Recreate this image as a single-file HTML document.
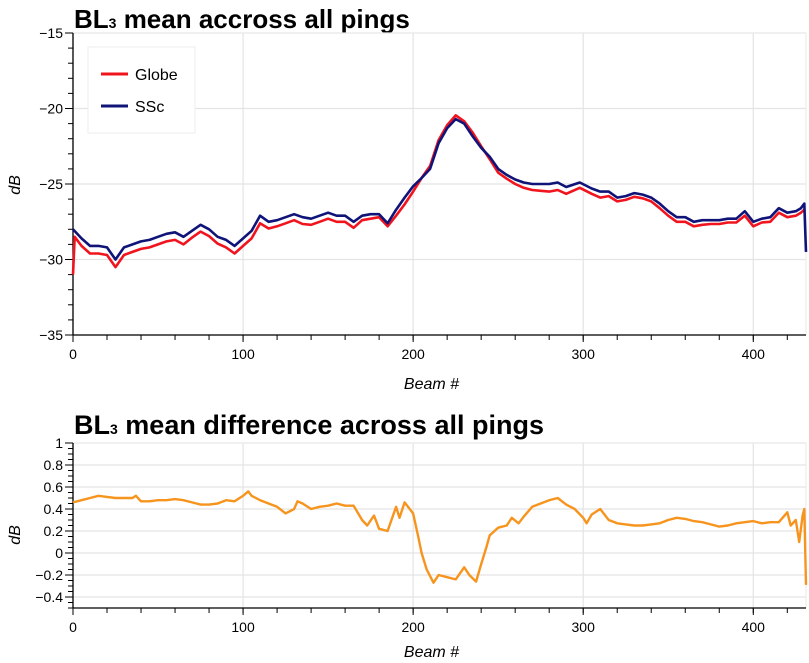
<!DOCTYPE html>
<html><head><meta charset="utf-8"><style>
body{margin:0;background:#fff;}
svg{display:block;font-family:"Liberation Sans",Arial,sans-serif;}
</style></head><body>
<svg id="chart" width="809" height="663" viewBox="0 0 809 663" xmlns="http://www.w3.org/2000/svg">
<text x="74" y="28" font-size="26" font-weight="bold">BL<tspan font-size="14">3</tspan> mean accross all pings</text>
<text x="74" y="434" font-size="27" font-weight="bold">BL<tspan font-size="14">3</tspan> mean difference across all pings</text>
<g id="topChart"></g>
<g id="botChart"></g>
</svg>
<script>
const sscBeams=[0,5,10,15,20,25,30,35,40,45,50,55,60,65,70,75,80,85,90,95,100,105,110,115,120,125,130,135,140,145,150,155,160,165,170,175,180,185,190,195,200,205,210,215,220,225,230,235,240,245,250,255,260,265,270,275,280,285,290,298,305,310,315,320,325,330,335,340,345,350,355,360,365,370,375,380,385,390,395,400,405,410,415,420,425,428,430,431];
const sscValues=[-28.0,-28.6,-29.1,-29.1,-29.2,-30.0,-29.2,-29.0,-28.8,-28.7,-28.5,-28.3,-28.2,-28.5,-28.1,-27.7,-28.0,-28.5,-28.7,-29.1,-28.6,-28.1,-27.1,-27.5,-27.4,-27.2,-27.0,-27.2,-27.3,-27.1,-26.9,-27.1,-27.1,-27.5,-27.1,-27.0,-27.0,-27.6,-26.7,-25.9,-25.15,-24.6,-24.0,-22.3,-21.3,-20.7,-21.0,-21.85,-22.6,-23.2,-24.0,-24.4,-24.7,-24.9,-25.0,-25.0,-25.0,-24.9,-25.2,-24.9,-25.3,-25.5,-25.5,-25.9,-25.8,-25.6,-25.7,-25.9,-26.3,-26.8,-27.2,-27.2,-27.5,-27.4,-27.4,-27.4,-27.3,-27.3,-26.8,-27.5,-27.3,-27.2,-26.6,-26.9,-26.8,-26.6,-26.3,-29.5];
const globeBeams=[0,1,5,10,15,20,25,30,35,40,45,50,55,60,65,70,75,80,85,90,95,100,105,110,115,120,125,130,135,140,145,150,155,160,165,170,175,180,185,190,195,200,205,210,215,220,225,230,235,240,245,250,255,260,265,270,275,280,285,290,298,305,310,315,320,325,330,335,340,345,350,355,360,365,370,375,380,385,390,395,400,405,410,415,420,425,428,430];
const globeValues=[-31.0,-28.5,-29.1,-29.6,-29.6,-29.7,-30.5,-29.7,-29.5,-29.3,-29.2,-29.0,-28.8,-28.7,-29.0,-28.55,-28.15,-28.45,-28.95,-29.2,-29.6,-29.1,-28.6,-27.6,-27.95,-27.8,-27.6,-27.4,-27.65,-27.7,-27.5,-27.3,-27.5,-27.5,-27.9,-27.4,-27.3,-27.2,-27.8,-27.1,-26.35,-25.5,-24.6,-23.8,-22.1,-21.1,-20.45,-20.85,-21.6,-22.5,-23.35,-24.25,-24.65,-25.0,-25.25,-25.4,-25.45,-25.5,-25.4,-25.65,-25.25,-25.65,-25.9,-25.8,-26.15,-26.05,-25.85,-25.95,-26.15,-26.6,-27.1,-27.5,-27.5,-27.8,-27.7,-27.65,-27.65,-27.55,-27.55,-27.1,-27.8,-27.55,-27.5,-26.9,-27.2,-27.1,-26.9,-26.7];
const diffBeams=[0,5,10,15,20,25,30,35,37,40,45,50,55,60,65,70,75,80,85,90,95,100,103,105,110,115,120,125,130,132,135,140,145,150,155,160,165,170,173,177,180,185,190,192,195,200,203,205,208,212,215,220,225,230,233,237,240,243,245,250,255,258,262,265,270,275,280,285,290,295,300,302,305,310,315,320,325,330,335,340,345,350,355,360,365,370,375,380,385,390,395,400,405,410,415,420,422,425,427,429,430,431];
const diffValues=[0.46,0.48,0.5,0.52,0.51,0.5,0.5,0.5,0.52,0.47,0.47,0.48,0.48,0.49,0.48,0.46,0.44,0.44,0.45,0.48,0.47,0.52,0.56,0.52,0.48,0.45,0.42,0.36,0.40,0.47,0.45,0.40,0.42,0.43,0.45,0.43,0.43,0.30,0.25,0.34,0.22,0.20,0.42,0.32,0.46,0.36,0.15,0.0,-0.15,-0.27,-0.2,-0.22,-0.24,-0.13,-0.2,-0.26,-0.1,0.05,0.16,0.23,0.25,0.32,0.27,0.33,0.42,0.45,0.48,0.5,0.44,0.40,0.32,0.27,0.35,0.40,0.30,0.27,0.26,0.25,0.25,0.26,0.27,0.30,0.32,0.31,0.29,0.28,0.26,0.24,0.25,0.27,0.28,0.29,0.27,0.28,0.28,0.37,0.25,0.30,0.10,0.34,0.40,-0.29];
const xTicks=[0,100,200,300,400];
const topYTicks=[-35,-30,-25,-20,-15];
const botYTicks=[-0.4,-0.2,0,0.2,0.4,0.6,0.8,1];

const NS="http://www.w3.org/2000/svg";
function mk(p,t,a){const e=document.createElementNS(NS,t);for(const k in a)e.setAttribute(k,a[k]);p.appendChild(e);return e;}
const X0=73,X1=806;
const xs=b=>X0+(b-0)*(X1-X0)/431;

function axes(g,yMin,yMax,yTop,yBot,ticks,minorStep,fmt,ylabY,xlabY,name){
  const ysc=v=>yBot-(v-yMin)*(yBot-yTop)/(yMax-yMin);
  xTicks.forEach(t=>{const l=mk(g,'line',{x1:xs(t),x2:xs(t),y1:yTop,y2:yBot,stroke:'#e4e4e4','stroke-width':1.2});
    
    });
  ticks.forEach(t=>{const l=mk(g,'line',{x1:X0,x2:X1,y1:ysc(t),y2:ysc(t),stroke:'#e4e4e4','stroke-width':1.2});
    
    });
  mk(g,'line',{x1:X0,x2:X1,y1:yTop,y2:yTop,stroke:'#e8e8e8'});
  mk(g,'line',{x1:X1,x2:X1,y1:yTop,y2:yBot,stroke:'#e8e8e8'});
  mk(g,'line',{x1:X0,x2:X1,y1:yBot,y2:yBot,stroke:'#000','stroke-width':1.3});
  mk(g,'line',{x1:X0,x2:X0,y1:yTop,y2:yBot,stroke:'#000','stroke-width':1.3});
  for(let b=0;b<=431;b+=20){mk(g,'line',{x1:xs(b),x2:xs(b),y1:yBot,y2:yBot+5,stroke:'#000'});}
  xTicks.forEach(t=>{mk(g,'line',{x1:xs(t),x2:xs(t),y1:yBot,y2:yBot+7,stroke:'#000'});
    const tx=mk(g,'text',{x:xs(t),y:yBot+24,'font-size':14,'text-anchor':'middle'});tx.textContent=t;
    
    });
  for(let v=yMin;v<=yMax+1e-9;v+=minorStep){mk(g,'line',{x1:X0-5,x2:X0,y1:ysc(v),y2:ysc(v),stroke:'#000'});}
  ticks.forEach(t=>{mk(g,'line',{x1:X0-8,x2:X0,y1:ysc(t),y2:ysc(t),stroke:'#000'});
    const tx=mk(g,'text',{x:X0-10,y:ysc(t)+5,'font-size':14,'text-anchor':'end'});tx.textContent=fmt(t);
    
    });
  const xl=mk(g,'text',{x:(X0+X1)/2-8,y:xlabY,'font-size':16,'font-style':'italic','text-anchor':'middle'});xl.textContent='Beam #';
  
  
  const yl=mk(g,'text',{x:0,y:0,'font-size':16,'font-style':'italic','text-anchor':'middle',transform:`translate(20,${ylabY}) rotate(-90)`});yl.textContent='dB';
  
  
  return ysc;
}
function line(g,bs,vs,ysc,col,w,name){
  const d=bs.map((b,i)=>(i?'L':'M')+xs(b).toFixed(1)+','+ysc(vs[i]).toFixed(1)).join('');
  const p=mk(g,'path',{d:d,fill:'none',stroke:col,'stroke-width':w,'stroke-linejoin':'round'});
  
  
}
const minus=t=>String(t).replace('-','\u2212');
const topG=document.getElementById('topChart');
const ysT=axes(topG,-35,-15,33,335,topYTicks,1,minus,185,389,'top');
line(topG,globeBeams,globeValues,ysT,'#f0141e',2.6,'globe-line');
line(topG,sscBeams,sscValues,ysT,'#101478',2.6,'ssc-line');
const lg=mk(topG,'g',{});


mk(lg,'rect',{x:88,y:47,width:107,height:86,fill:'#fff',stroke:'#eeeeee'});
mk(lg,'line',{x1:101,x2:128,y1:74,y2:74,stroke:'#f0141e','stroke-width':3});
mk(lg,'line',{x1:101,x2:128,y1:106,y2:106,stroke:'#101478','stroke-width':3});
const t1=mk(lg,'text',{x:135,y:80,'font-size':16});t1.textContent='Globe';


const t2=mk(lg,'text',{x:135,y:112,'font-size':16});t2.textContent='SSc';


const botG=document.getElementById('botChart');
const ysB=axes(botG,-0.5,1,443,608,botYTicks,0.05,t=>minus(String(+t.toFixed(1))),535,657,'bottom');
line(botG,diffBeams,diffValues,ysB,'#f7941d',2.4,'difference-line');
</script>
</body></html>
